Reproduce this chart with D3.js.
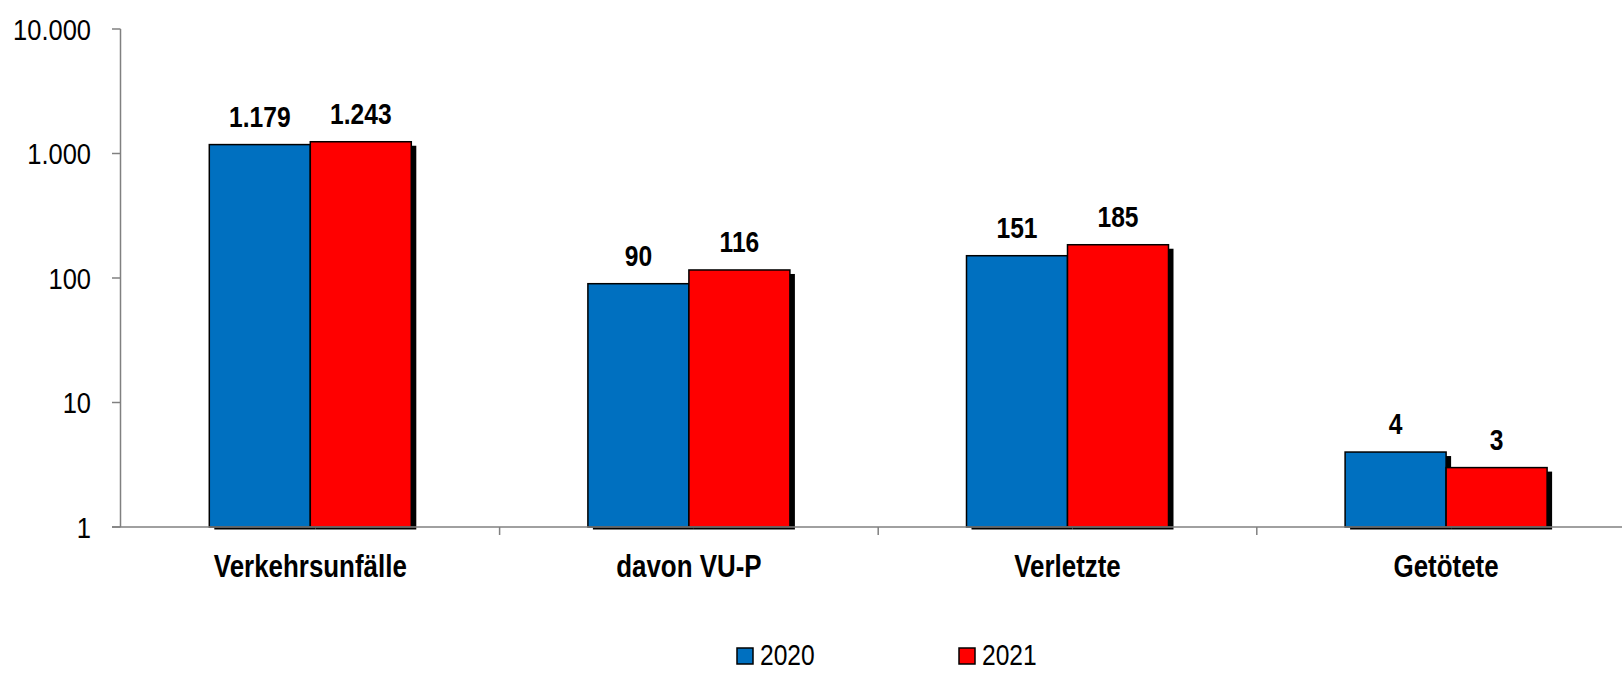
<!DOCTYPE html>
<html>
<head>
<meta charset="utf-8">
<script src="https://cdn.jsdelivr.net/npm/d3@7"></script>
<style>
  html, body { margin: 0; padding: 0; background: #ffffff; }
  svg { display: block; }
  text { font-family: 'Liberation Sans Narrow', 'Arial Narrow', 'Liberation Sans', Arial, sans-serif; }
</style>
</head>
<body>
<svg id="chart" width="1622" height="674"></svg>
<script>
const categories = ["Verkehrsunfälle", "davon VU-P", "Verletzte", "Getötete"];
const seriesNames = ["2020", "2021"];
const values2020 = [1179, 90, 151, 4];
const values2021 = [1243, 116, 185, 3];
const yTickValues = [1, 10, 100, 1000, 10000];
const colors = { "2020": "#0070C0", "2021": "#FF0000" };

const W = 1622, H = 674;
const svg = d3.select("#chart");
const locale = d3.formatLocale({ decimal: ",", thousands: ".", grouping: [3], currency: ["", "€"] });
const fmt = locale.format(",d");

// narrow look: compress horizontally (Arial Narrow not installed)
const SX = 0.82;
function ntext(parent, x, yy, str, opts) {
  const t = parent.append("text")
    .attr("transform", `translate(${x},${yy}) scale(${opts.sx || SX},1)`)
    .attr("x", 0).attr("y", 0)
    .attr("text-anchor", opts.anchor || "start")
    .attr("font-size", opts.size)
    .attr("font-weight", opts.weight || "normal")
    .attr("fill", "#000")
    .text(str);
  if (opts.dy) t.attr("dy", opts.dy);
  return t;
}

const plotLeft = 121, bandW = 378.6, yTop = 29, yBottom = 527;
const x0 = d3.scaleBand().domain(categories).range([plotLeft, plotLeft + bandW * categories.length]).padding(0);
const groupW = 202;
const x1 = d3.scaleBand().domain(seriesNames)
  .range([(bandW - groupW) / 2, (bandW + groupW) / 2]).padding(0);
const y = d3.scaleLog().domain([1, 10000]).range([yBottom, yTop]);

const rows = categories.map((c, i) => ({ cat: c, vals: [
  { s: "2020", v: values2020[i] }, { s: "2021", v: values2021[i] }
]}));

// bars
const groups = svg.append("g").selectAll("g").data(rows).join("g")
  .attr("transform", d => `translate(${x0(d.cat)},0)`);

groups.each(function(d) {
  const g = d3.select(this);
  d.vals.forEach(b => {
    const bx = x1(b.s), by = y(b.v), bw = x1.bandwidth(), bh = yBottom - y(b.v);
    g.append("rect").attr("x", bx + 5).attr("y", by + 4).attr("width", bw).attr("height", bh - 1.5)
      .attr("fill", "#000");
    g.append("rect").attr("x", bx).attr("y", by).attr("width", bw).attr("height", bh)
      .attr("fill", colors[b.s]).attr("stroke", "#000").attr("stroke-width", 1.5);
  });
});

// axes
const axisColor = "#808080";
svg.append("line").attr("x1", plotLeft - 0.5).attr("x2", plotLeft - 0.5)
  .attr("y1", y(10000)).attr("y2", y(1)).attr("stroke", axisColor).attr("stroke-width", 1.5);
const yt = svg.append("g");
yTickValues.forEach(t => {
  yt.append("line").attr("x1", plotLeft - 9).attr("x2", plotLeft - 0.5)
    .attr("y1", y(t)).attr("y2", y(t)).attr("stroke", axisColor).attr("stroke-width", 1.5);
  ntext(yt, 91, y(t), fmt(t), { size: 30, anchor: "end", dy: "0.36em", sx: 0.85 });
});

svg.append("line").attr("x1", plotLeft - 9).attr("x2", W)
  .attr("y1", yBottom).attr("y2", yBottom).attr("stroke", axisColor).attr("stroke-width", 1.5);
categories.slice(1).forEach(c => {
  const xx = x0(c);
  svg.append("line").attr("x1", xx).attr("x2", xx).attr("y1", yBottom).attr("y2", yBottom + 8)
    .attr("stroke", axisColor).attr("stroke-width", 1.5);
});

// category labels
const catG = svg.append("g");
categories.forEach(c => {
  ntext(catG, x0(c) + bandW / 2, 577, c, { size: 32, weight: "bold", anchor: "middle", sx: 0.81 });
});

// data labels
groups.each(function(d) {
  const g = d3.select(this);
  d.vals.forEach(b => {
    ntext(g, x1(b.s) + x1.bandwidth() / 2, y(b.v) - 18, fmt(b.v),
      { size: 30, weight: "bold", anchor: "middle", sx: 0.82 });
  });
});

// legend
const legendX = { "2020": 737, "2021": 959 };
seriesNames.forEach(s => {
  const lg = svg.append("g").attr("transform", `translate(${legendX[s]},648)`);
  lg.append("rect").attr("x", 0).attr("y", 0).attr("width", 16).attr("height", 16)
    .attr("fill", colors[s]).attr("stroke", "#000").attr("stroke-width", 1.5);
  ntext(lg, 23, 17, s, { size: 30, sx: 0.82 });
});
</script>
</body>
</html>
